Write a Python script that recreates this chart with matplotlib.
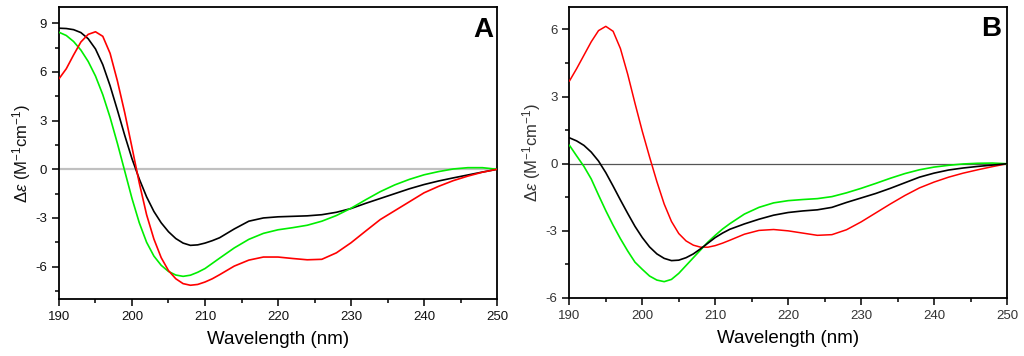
import matplotlib
matplotlib.use("Agg")
import matplotlib.pyplot as plt
from matplotlib.ticker import MultipleLocator

plt.rcParams['font.family'] = ['Liberation Sans', 'DejaVu Sans']
plt.rcParams['axes.unicode_minus'] = False
plt.rcParams['mathtext.fontset'] = 'custom'
plt.rcParams['mathtext.rm'] = 'Liberation Sans'
plt.rcParams['mathtext.it'] = 'Liberation Sans:italic'

# wavelength grid (nm): 1 nm steps to 212, then 2 nm steps
wl = [190, 191, 192, 193, 194, 195, 196, 197, 198, 199, 200, 201, 202, 203, 204,
      205, 206, 207, 208, 209, 210, 211, 212,
      214, 216, 218, 220, 222, 224, 226, 228, 230, 232, 234, 236, 238, 240, 242,
      244, 246, 248, 250]

# panel A
black_a = [8.70, 8.68, 8.61, 8.43, 8.05, 7.42, 6.45, 5.15, 3.65, 2.1, 0.65, -0.6,
           -1.7, -2.6, -3.3, -3.85, -4.27, -4.55, -4.69, -4.66, -4.55, -4.4, -4.22,
           -3.68, -3.2, -3.0, -2.93, -2.9, -2.87, -2.8, -2.65, -2.42, -2.1, -1.8,
           -1.5, -1.2, -0.94, -0.72, -0.53, -0.35, -0.17, 0.0]
red_a = [5.58, 6.2, 7.05, 7.85, 8.32, 8.48, 8.2, 7.15, 5.45, 3.5, 1.35, -0.85, -2.8,
         -4.3, -5.45, -6.25, -6.75, -7.05, -7.15, -7.1, -6.95, -6.75, -6.5,
         -5.97, -5.6, -5.41, -5.41, -5.5, -5.58, -5.55, -5.15, -4.53, -3.81, -3.1,
         -2.55, -2.0, -1.45, -1.05, -0.7, -0.42, -0.18, 0.0]
green_a = [8.45, 8.25, 7.88, 7.35, 6.65, 5.75, 4.6, 3.2, 1.6, -0.1, -1.8, -3.3, -4.5,
           -5.35, -5.92, -6.3, -6.52, -6.6, -6.53, -6.35, -6.12, -5.8, -5.48,
           -4.85, -4.32, -3.95, -3.73, -3.6, -3.45, -3.2, -2.85, -2.4, -1.88, -1.38,
           -0.96, -0.62, -0.34, -0.14, 0.02, 0.1, 0.1, 0.0]

# panel B
black_b = [1.16, 1.02, 0.82, 0.52, 0.12, -0.4, -1.0, -1.62, -2.22, -2.8, -3.3, -3.72,
           -4.03, -4.23, -4.33, -4.31, -4.2, -4.03, -3.8, -3.55, -3.3, -3.1, -2.93,
           -2.69, -2.48, -2.3, -2.18, -2.11, -2.06, -1.95, -1.73, -1.53, -1.33, -1.1,
           -0.85, -0.6, -0.42, -0.28, -0.19, -0.12, -0.06, 0.0]
red_b = [3.69, 4.25, 4.85, 5.45, 5.95, 6.14, 5.92, 5.15, 4.0, 2.7, 1.45, 0.3, -0.8,
         -1.8, -2.58, -3.12, -3.45, -3.64, -3.73, -3.73, -3.66, -3.55, -3.42,
         -3.15, -2.98, -2.94, -3.0, -3.1, -3.2, -3.17, -2.95, -2.6, -2.2, -1.8,
         -1.42, -1.08, -0.82, -0.6, -0.42, -0.27, -0.13, 0.0]
green_b = [0.83, 0.35, -0.12, -0.68, -1.4, -2.1, -2.75, -3.35, -3.9, -4.4, -4.72,
           -5.02, -5.2, -5.27, -5.17, -4.9, -4.55, -4.2, -3.85, -3.5, -3.2, -2.92,
           -2.68, -2.25, -1.95, -1.75, -1.65, -1.6, -1.56, -1.47, -1.3, -1.1, -0.88,
           -0.65, -0.44, -0.27, -0.15, -0.07, -0.01, 0.02, 0.03, 0.0]

GREEN = '#00ee00'
RED = '#ff0000'

fig = plt.figure(figsize=(10.24, 3.56), dpi=100)
ax_a = fig.add_axes([0.0576, 0.160, 0.4278, 0.820])
ax_b = fig.add_axes([0.556, 0.163, 0.4274, 0.817])


def style(ax, ylim, yticks, zero_color, zero_lw, tick_color, label_it):
    ax.set_xlim(190, 250)
    ax.set_ylim(*ylim)
    ax.axhline(0, color=zero_color, lw=zero_lw, zorder=1)
    ax.xaxis.set_major_locator(MultipleLocator(10))
    ax.xaxis.set_minor_locator(MultipleLocator(5))
    ax.set_yticks(yticks)
    ax.yaxis.set_minor_locator(MultipleLocator(1.5))
    ax.tick_params(which='major', direction='out', length=5, width=1.1,
                   labelsize=9.5, labelcolor=tick_color, top=False, right=False)
    ax.tick_params(which='minor', direction='out', length=3, width=1.1,
                   top=False, right=False)
    for s in ax.spines.values():
        s.set_linewidth(1.3)
    ax.set_xlabel('Wavelength (nm)', fontsize=13.5, labelpad=6)
    eps = r'$\mathit{\Delta\varepsilon}$' if label_it else r'$\Delta\epsilon$'
    ax.set_ylabel(eps + ' (M$^{-1}$cm$^{-1}$)', fontsize=12, labelpad=2,
                  color=tick_color)


def curve(ax, y, color, lw, z):
    ax.plot(wl, y, color=color, lw=lw, zorder=z,
            solid_joinstyle='round', solid_capstyle='round')


style(ax_a, (-8, 10), [-6, -3, 0, 3, 6, 9], '#c0c0c0', 1.6, '#111111', True)
curve(ax_a, black_a, 'black', 1.2, 3)
curve(ax_a, green_a, GREEN, 1.2, 3)
curve(ax_a, red_a, RED, 1.2, 4)
ax_a.text(0.968, 0.92, 'A', transform=ax_a.transAxes, ha='center', va='center',
          fontsize=20, fontweight='bold')

style(ax_b, (-6, 7), [-6, -3, 0, 3, 6], '#555555', 0.9, '#333333', False)
curve(ax_b, red_b, RED, 1.1, 3)
curve(ax_b, green_b, GREEN, 1.2, 3)
curve(ax_b, black_b, 'black', 1.2, 4)
ax_b.text(0.963, 0.924, 'B', transform=ax_b.transAxes, ha='center', va='center',
          fontsize=20, fontweight='bold')

fig.savefig('out.png', dpi=100)
